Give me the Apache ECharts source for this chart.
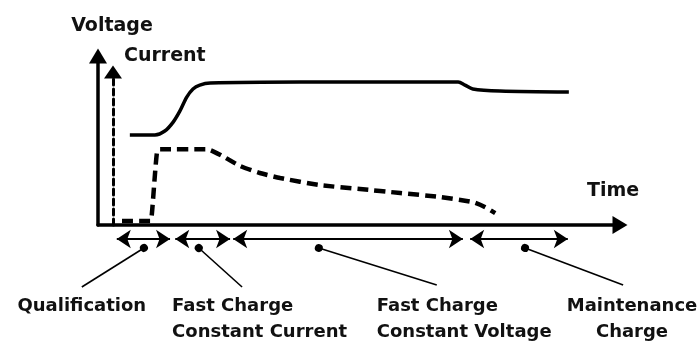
<!DOCTYPE html>
<html>
<head>
<meta charset="utf-8">
<title>Charging profile</title>
<script src="https://cdn.jsdelivr.net/npm/echarts@6/dist/echarts.min.js"></script>
<style>
  html, body { margin: 0; padding: 0; background: #fff; }
  #main { width: 700px; height: 345px; }
</style>
</head>
<body>
<div id="main"></div>
<script>
// voltage (solid) - time 0..100, level 0..100
const voltageTime  = [6.1, 10.9, 12.8, 14.4, 15.7, 17.0, 18.2, 19.5, 21.5, 38.7, 69.0, 70.3, 71.8, 77.0, 90.2];
const voltageLevel = [53.3, 53.3, 55.6, 60.9, 67.5, 75.7, 80.5, 82.8, 84.0, 84.6, 84.6, 82.8, 80.5, 79.3, 78.7];

// current (dashed)
const currentTime  = [4.6, 10.0, 10.3, 11.3, 11.9, 20.9, 23.8, 27.2, 31.0, 34.9, 42.5, 50.2, 57.9, 65.5, 71.8, 74.1, 76.1];
const currentLevel = [2.6, 2.6, 6.5, 47.7, 49.5, 49.5, 45.1, 38.6, 34.0, 30.7, 26.1, 23.5, 20.9, 18.3, 15.0, 11.8, 7.8];

// charge phases along the time axis
const phaseNames  = ['Qualification', 'Fast Charge\nConstant Current', 'Fast Charge\nConstant Voltage', 'Maintenance\nCharge'];
const phaseStart  = [3.6, 14.8, 25.9, 71.3];
const phaseEnd    = [13.8, 25.3, 69.9, 90.0];
const phaseDot    = [8.8, 19.3, 42.3, 81.8];
const calloutEndX = [-3.1, 27.6, 64.9, 100.6];
const calloutEndY = [-36.7, -36.7, -35.5, -35.5];
const labelX      = [-3.1, 14.2, 53.4, 102.3];
const labelAlign  = ['center', 'left', 'left', 'center'];

const GRID_LEFT = 98, GRID_RIGHT = 80;
const ARROW_Y = -8.3, DOT_Y = -13.6, LABEL_Y = -40.2;

const FONT = 'DejaVu Sans';
const titleStyle = {fontFamily: FONT, fontWeight: 'bold', fontSize: 19, color: '#111'};

function zip(a, b) {
    return a.map((v, i) => [v, b[i]]);
}

const chart = echarts.init(document.getElementById('main'), null, {renderer: 'canvas'});

chart.setOption({
    animation: false,
    backgroundColor: '#fff',
    grid: [
        {left: GRID_LEFT, right: GRID_RIGHT, top: 56, bottom: 120, outerBoundsMode: 'none'},
        {left: GRID_LEFT, right: GRID_RIGHT, top: 72, bottom: 120, outerBoundsMode: 'none'}
    ],
    xAxis: [
        {
            gridIndex: 0, type: 'value', min: 0, max: 100,
            name: 'Time', nameLocation: 'end', nameGap: -7,
            nameTextStyle: Object.assign({align: 'center', verticalAlign: 'bottom', padding: [0, 0, 24, 0]}, titleStyle),
            axisLine: {show: true, onZero: false, symbol: ['none', 'triangle'], symbolSize: [18, 15],
                lineStyle: {color: '#000', width: 3.5}},
            axisTick: {show: false}, axisLabel: {show: false}, splitLine: {show: false}
        },
        {gridIndex: 1, type: 'value', min: 0, max: 100, show: false}
    ],
    yAxis: [
        {
            gridIndex: 0, type: 'value', min: 0, max: 100,
            name: 'Voltage', nameLocation: 'end', nameGap: 20,
            nameTextStyle: Object.assign({padding: [0, 0, 0, 28]}, titleStyle),
            axisLine: {show: true, onZero: false, symbol: ['none', 'triangle'], symbolSize: [18, 15],
                lineStyle: {color: '#000', width: 3.5}},
            axisTick: {show: false}, axisLabel: {show: false}, splitLine: {show: false}
        },
        {
            gridIndex: 1, type: 'value', min: 0, max: 100, offset: -15,
            name: 'Current', nameLocation: 'end', nameGap: 6,
            nameTextStyle: Object.assign({align: 'left', padding: [0, 0, 0, 11]}, titleStyle),
            axisLine: {show: true, onZero: false, symbol: ['none', 'triangle'], symbolSize: [18, 13],
                lineStyle: {color: '#000', width: 3, type: [6, 4]}},
            axisTick: {show: false}, axisLabel: {show: false}, splitLine: {show: false}
        }
    ],
    series: [
        {
            type: 'line', name: 'Voltage', xAxisIndex: 0, yAxisIndex: 0,
            data: zip(voltageTime, voltageLevel),
            symbol: 'none', smooth: 0.3, silent: true,
            lineStyle: {color: '#000', width: 3.5}
        },
        {
            type: 'line', name: 'Current', xAxisIndex: 1, yAxisIndex: 1,
            data: zip(currentTime, currentLevel),
            symbol: 'none', smooth: 0.2, silent: true,
            lineStyle: {color: '#000', width: 4.5, type: [11, 6]}
        },
        {
            // phase span arrows
            type: 'lines', coordinateSystem: 'cartesian2d', xAxisIndex: 0, yAxisIndex: 0,
            clip: false, silent: true,
            symbol: ['arrow', 'arrow'], symbolSize: 14,
            lineStyle: {color: '#000', width: 1.8, opacity: 1, curveness: 0},
            data: phaseStart.map((s, i) => ({coords: [[s, ARROW_Y], [phaseEnd[i], ARROW_Y]]}))
        },
        {
            // callout leaders
            type: 'lines', coordinateSystem: 'cartesian2d', xAxisIndex: 0, yAxisIndex: 0,
            clip: false, silent: true,
            symbol: ['circle', 'none'], symbolSize: 8,
            lineStyle: {color: '#000', width: 1.6, opacity: 1, curveness: 0},
            data: phaseDot.map((d, i) => ({coords: [[d, DOT_Y], [calloutEndX[i], calloutEndY[i]]]}))
        },
        {
            type: 'scatter', xAxisIndex: 0, yAxisIndex: 0, clip: false, silent: true,
            symbolSize: 0,
            itemStyle: {color: '#000', opacity: 1},
            label: {
                show: true, formatter: '{b}', position: [0, 0], verticalAlign: 'top',
                fontFamily: FONT, fontWeight: 'bold', fontSize: 18, lineHeight: 26,
                color: '#111', opacity: 1
            },
            data: phaseNames.map((n, i) => ({name: n, value: [labelX[i], LABEL_Y], label: {align: labelAlign[i]}}))
        }
    ]
});
</script>
</body>
</html>
